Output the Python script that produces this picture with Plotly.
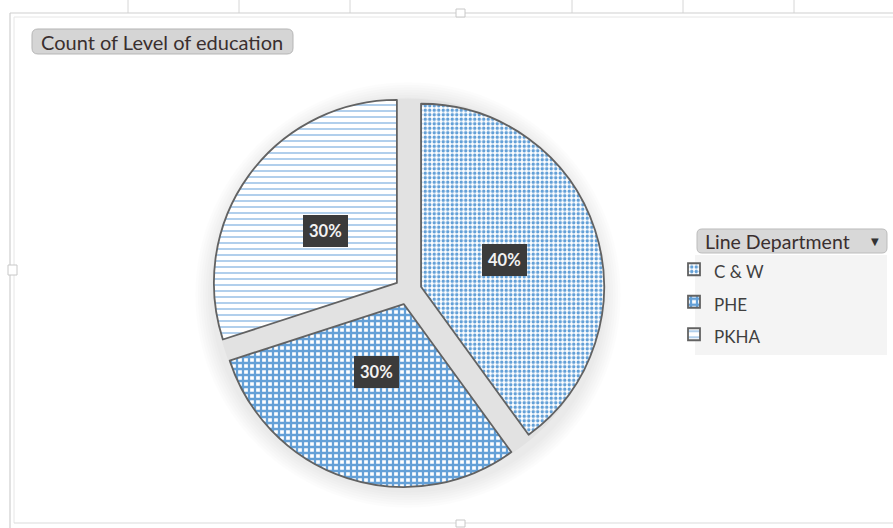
import math
import plotly.graph_objects as go

# ---------------- data ----------------
categories = ["C & W", "PHE", "PKHA"]
counts = [4, 3, 3]
patterns = [".", "+", "-"]
chart_title = "Count of Level of education"
legend_title = "Line Department"

# ---------------- geometry / styling ----------------
W, H = 893, 528
CX, CY = 408, 291          # pie centre in px
R = 183                    # pie radius in px
PULL = 0.075
BLUE = "#5b9bd5"
TXT = "#3a2f2f"
FONT = "Lato"

def px(x):
    return x / W

def py(y):
    return 1 - y / H

half = R * (1 + PULL)
dom_x = [px(CX - half), px(CX + half)]
dom_y = [py(CY + half), py(CY - half)]

fig = go.Figure()

fig.add_trace(go.Pie(
    labels=[f'<span style="font-size:17px">{c}</span>' for c in categories],
    values=counts,
    sort=False,
    direction="clockwise",
    rotation=0,
    pull=[PULL] * len(counts),
    textinfo="none",
    hoverinfo="label+percent",
    domain=dict(x=dom_x, y=dom_y),
    marker=dict(
        colors=["white"] * len(counts),
        line=dict(color="#626262", width=1.8),
        pattern=dict(
            shape=patterns,
            fgcolor=BLUE,
            bgcolor="white",
            fgopacity=0.95,
            size=[4.5, 6, 6],
            solidity=[0.45, 0.62, 0.17],
        ),
    ),
))

shapes = []
annotations = []

# soft shadow behind the pie
d = PULL * R
for k in range(7):
    rr = R + d + 1 + k * 2.5
    shapes.append(dict(type="circle", xref="paper", yref="paper", layer="below",
                       x0=px(CX - rr), x1=px(CX + rr), y0=py(CY + 4 + rr), y1=py(CY + 4 - rr),
                       fillcolor="rgba(0,0,0,0.012)", line=dict(width=0)))
rg = R + 0.7 * d
shapes.append(dict(type="circle", xref="paper", yref="paper", layer="below",
                   x0=px(CX - rg), x1=px(CX + rg), y0=py(CY + rg), y1=py(CY - rg),
                   fillcolor="#e2e2e2", line=dict(width=0)))

# percentage labels
total = sum(counts)
cum = 0
for c in counts:
    mid = (cum + c / 2) / total * 360
    cum += c
    dist = d + 0.48 * R
    lx = CX + dist * math.sin(math.radians(mid))
    ly = CY - dist * math.cos(math.radians(mid))
    annotations.append(dict(
        x=px(lx), y=py(ly), xref="paper", yref="paper", showarrow=False,
        text=f"{c / total * 100:.0f}%",
        font=dict(family=FONT, size=16.5, color="#f2f2f2", weight="bold"),
        bgcolor="#3b3b3b", borderpad=5, bordercolor="#3b3b3b",
    ))

def rounded_rect(x0, y0, x1, y1, rad, fill, line):
    def P(x, y):
        return f"{px(x):.5f},{py(y):.5f}"
    path = (f"M{P(x0 + rad, y0)} L{P(x1 - rad, y0)} Q{P(x1, y0)} {P(x1, y0 + rad)} "
            f"L{P(x1, y1 - rad)} Q{P(x1, y1)} {P(x1 - rad, y1)} "
            f"L{P(x0 + rad, y1)} Q{P(x0, y1)} {P(x0, y1 - rad)} "
            f"L{P(x0, y0 + rad)} Q{P(x0, y0)} {P(x0 + rad, y0)} Z")
    return dict(type="path", xref="paper", yref="paper", path=path,
                fillcolor=fill, line=dict(color=line, width=1), layer="below")

# title button
shapes.append(rounded_rect(32, 29, 293, 54, 6, "#d5d5d5", "#b5b5b5"))
annotations.append(dict(x=px(39), y=py(41.5), xref="paper", yref="paper",
                        xanchor="left", yanchor="middle", showarrow=False,
                        text=chart_title, font=dict(family=FONT, size=20, color=TXT)))

# legend panel + header button
shapes.append(dict(type="rect", xref="paper", yref="paper", layer="below",
                   x0=px(695), x1=px(887), y0=py(355), y1=py(255),
                   fillcolor="#f4f4f4", line=dict(width=0)))
shapes.append(rounded_rect(697, 229, 887, 253, 5, "#d8d8d8", "#bcbcbc"))
annotations.append(dict(x=px(703), y=py(241), xref="paper", yref="paper",
                        xanchor="left", yanchor="middle", showarrow=False,
                        text=legend_title, font=dict(family=FONT, size=19.5, color=TXT)))
annotations.append(dict(x=px(875), y=py(241), xref="paper", yref="paper",
                        xanchor="center", yanchor="middle", showarrow=False,
                        text="▼", font=dict(family="DejaVu Sans", size=10, color="#333333")))

# chart frame (Excel-style)
FR = "#cfcfcf"
for gx in [128, 239, 350, 572, 683, 794]:
    shapes.append(dict(type="line", xref="paper", yref="paper",
                       x0=px(gx), x1=px(gx), y0=py(0), y1=py(13), line=dict(color="#d6d6d6", width=1)))
shapes.append(dict(type="line", xref="paper", yref="paper", x0=px(10), x1=px(893),
                   y0=py(13), y1=py(13), line=dict(color=FR, width=1.2)))
shapes.append(dict(type="line", xref="paper", yref="paper", x0=px(14), x1=px(893),
                   y0=py(17), y1=py(17), line=dict(color="#e6e6e6", width=1)))
shapes.append(dict(type="line", xref="paper", yref="paper", x0=px(10), x1=px(10),
                   y0=py(13), y1=py(528), line=dict(color=FR, width=1.2)))
shapes.append(dict(type="line", xref="paper", yref="paper", x0=px(14), x1=px(14),
                   y0=py(17), y1=py(523), line=dict(color="#e6e6e6", width=1)))
shapes.append(dict(type="line", xref="paper", yref="paper", x0=px(14), x1=px(893),
                   y0=py(523), y1=py(523), line=dict(color="#dcdcdc", width=1.2)))
for (hx, hy, hw, hh) in [(456, 9, 9, 8), (8, 265, 9, 10), (456, 520, 9, 7)]:
    shapes.append(dict(type="rect", xref="paper", yref="paper",
                       x0=px(hx), x1=px(hx + hw), y0=py(hy + hh), y1=py(hy),
                       fillcolor="white", line=dict(color="#c8c8c8", width=1)))

fig.update_layout(
    width=W, height=H,
    margin=dict(l=0, r=0, t=0, b=0),
    paper_bgcolor="white",
    plot_bgcolor="white",
    showlegend=True,
    legend=dict(
        x=px(674), y=py(248), xanchor="left", yanchor="top",
        bgcolor="rgba(0,0,0,0)",
        font=dict(family=FONT, size=22.7, color="#404040"),
        traceorder="normal",
        itemclick=False,
    ),
    shapes=shapes,
    annotations=annotations,
)

fig.write_html("out.html")
